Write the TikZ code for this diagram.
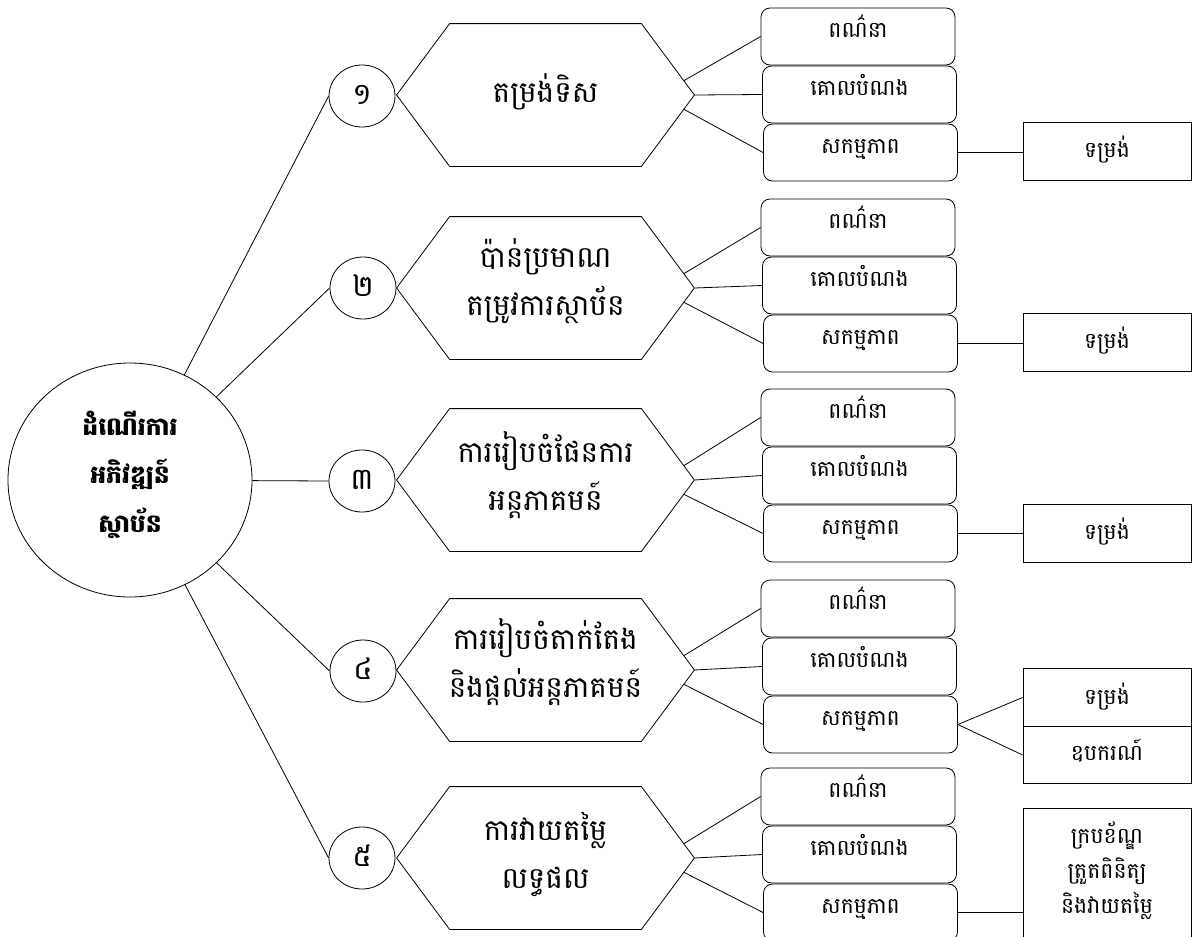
\documentclass[tikz,border=0pt]{standalone}
\usepackage{fontspec}
\newfontfamily\kh[Script=Khmer]{Battambang}
\usetikzlibrary{calc,shapes.geometric}
\newcommand\mybl[2]{\raisebox{#1}[0pt][0pt]{#2}}
\newcommand\mytwo[2]{\begin{tabular}[b]{@{}c@{}}#1\\#2\end{tabular}}
\begin{document}
\begin{tikzpicture}[x=1pt,y=-1pt,line width=0.8pt,
  rootnode/.style={draw,ellipse,minimum width=244pt,minimum height=234pt,inner sep=0pt,font=\kh\bfseries\fontsize{25}{48.5}\selectfont},
  numnode/.style={draw,ellipse,minimum width=66pt,minimum height=62pt,inner sep=0pt,font=\kh\fontsize{30}{34}\selectfont},
  hexnode/.style={minimum width=297pt,minimum height=142pt,inner sep=0pt,font=\kh\fontsize{29.5}{48}\selectfont},
  itembox/.style={draw,rounded corners=9pt,minimum width=194pt,minimum height=57pt,inner sep=0pt,font=\kh\fontsize{22}{26}\selectfont},
  farbox/.style={draw,minimum width=168pt,minimum height=58pt,inner sep=0pt,font=\kh\fontsize{22}{35}\selectfont}]
\path[use as bounding box] (0,0) rectangle (1195,937);
\clip (0,0) rectangle (1195,937);
% root
\node[rootnode] (root) at (130,480) {\mybl{-52pt}{\begin{tabular}[b]{@{}c@{}}ដំណើរការ\\អភិវឌ្ឍន៍\\ស្ថាប័ន\end{tabular}}};
% number circles
\node[numnode] (c1) at (362,96) {\mybl{-8pt}{១}};
\node[numnode] (c2) at (363,288) {\mybl{-8pt}{២}};
\node[numnode] (c3) at (362,481) {\mybl{-8pt}{៣}};
\node[numnode] (c4) at (363,671) {\mybl{-8pt}{៤}};
\node[numnode] (c5) at (362,858) {\mybl{-8pt}{៥}};
% hexagons
\node[hexnode] (h1) at (545.5,95) {\mybl{-7.5pt}{តម្រង់ទិស}};
\node[hexnode] (h2) at (545.5,288) {\mybl{-27pt}{\mytwo{ប៉ាន់ប្រមាណ}{តម្រូវការស្ថាប័ន}}};
\node[hexnode] (h3) at (545.5,480) {\mybl{-30pt}{\mytwo{ការរៀបចំផែនការ}{អន្តភាគមន៍}}};
\node[hexnode] (h4) at (545.5,670) {\mybl{-27pt}{\mytwo{ការរៀបចំតាក់តែង}{និងផ្ដល់អន្តភាគមន៍}}};
\node[hexnode] (h5) at (545.5,858) {\mybl{-30pt}{\mytwo{ការវាយតម្លៃ}{លទ្ធផល}}};
\foreach \i in {1,...,5}{
  \coordinate (hne\i) at ([xshift=-53pt]h\i.north east);
  \coordinate (hse\i) at ([xshift=-53pt]h\i.south east);
  \draw (h\i.west) -- ([xshift=53pt]h\i.north west) -- (hne\i) -- (h\i.east) -- (hse\i) -- ([xshift=53pt]h\i.south west) -- cycle;
}
% item boxes
\foreach \i/\t in {1/8,2/199,3/389,4/580,5/768}{
  \node[itembox] (ba\i) at (858,\t+28.5) {\mybl{-1pt}{ពណ៌នា}};
  \node[itembox] (bb\i) at (859.5,\t+86.5) {\mybl{-1pt}{គោលបំណង}};
  \node[itembox] (bc\i) at (860.5,\t+144.5) {\mybl{-1pt}{សកម្មភាព}};
  \draw ($(h\i.east)!0.2!(hne\i)$) -- (ba\i.west);
  \draw (h\i.east) -- (bb\i.west);
  \draw ($(h\i.east)!0.2!(hse\i)$) -- (bc\i.west);
  \draw (root) -- (c\i.west);
}
% far boxes
\node[farbox] (f1) at (1107,151) {\mybl{-6pt}{ទម្រង់}};
\node[farbox] (f2) at (1107,342.5) {\mybl{-6pt}{ទម្រង់}};
\node[farbox] (f3) at (1107,533) {\mybl{-6pt}{ទម្រង់}};
\node[farbox,minimum height=57.5pt] (f4a) at (1107,697.5) {\mybl{-7pt}{ទម្រង់}};
\node[farbox,minimum height=57.5pt] (f4b) at (1107,755) {\mybl{-5pt}{ឧបករណ៍}};
\node[farbox,minimum height=208pt] (f5) at (1107,912) {\mybl{-1pt}{\begin{tabular}[b]{@{}c@{}}ក្របខ័ណ្ឌ\\ត្រួតពិនិត្យ\\និងវាយតម្លៃ\end{tabular}}};
\draw (bc1.east) -- (bc1.east -| f1.west);
\draw (bc2.east) -- (bc2.east -| f2.west);
\draw (bc3.east) -- (bc3.east -| f3.west);
\draw (bc4.east) -- (f4a.west);
\draw (bc4.east) -- (f4b.west);
\draw (bc5.east) -- (bc5.east -| f5.west);
\end{tikzpicture}
\end{document}
